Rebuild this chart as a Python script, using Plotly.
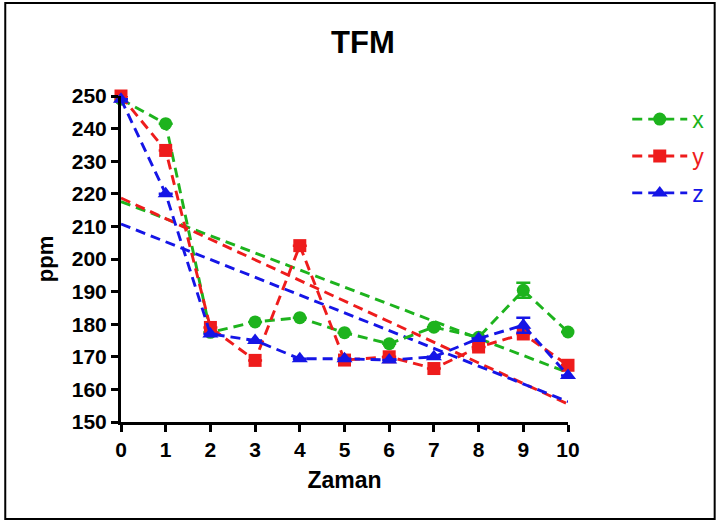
import numpy as np
import plotly.graph_objects as go

# Time points
zaman = list(range(11))

# Mean ppm values per series
x_vals = [249.0, 241.5, 177.5, 180.7, 182.0, 177.4, 174.0, 179.1, 176.0, 190.4, 177.6]
y_vals = [250.0, 233.3, 179.0, 168.9, 204.1, 169.0, 170.0, 166.4, 173.0, 177.0, 167.4]
z_vals = [249.0, 220.0, 177.0, 175.0, 169.4, 169.4, 169.0, 170.0, 175.6, 179.7, 164.3]

# Standard errors
x_err = [0, 0, 0, 0, 0, 0, 0, 0, 0, 2.3, 0]
y_err = [0, 0, 0, 0, 0, 0, 0, 0, 0, 0, 0]
z_err = [0, 0, 0, 0, 0, 0, 0, 0, 0, 2.3, 0]

series = [
    ("x", x_vals, x_err, "#1db31d", "circle", 13),
    ("y", y_vals, y_err, "#ee1c1c", "square", 13),
    ("z", z_vals, z_err, "#1515e6", "triangle-up", 14),
]

DASH = "10px,6px"
LW = 2.9
fig = go.Figure()

# Linear regression trend lines
for name, vals, err, color, sym, size in series:
    slope, icpt = np.polyfit(zaman, vals, 1)
    xs = [zaman[0], zaman[-1]]
    fig.add_trace(go.Scatter(
        x=xs, y=[icpt + slope * v for v in xs], mode="lines",
        line=dict(color=color, width=LW, dash=DASH),
        showlegend=False, hoverinfo="skip", cliponaxis=False))

# Data series
for name, vals, err, color, sym, size in series:
    fig.add_trace(go.Scatter(
        x=zaman, y=vals, mode="lines+markers",
        name=f"<span style='color:{color}'>{name}</span>",
        legendgroup=name,
        line=dict(color=color, width=LW, dash=DASH),
        marker=dict(symbol=sym, size=size, color=color),
        error_y=dict(type="data", array=err, visible=True, color=color,
                     thickness=2.5, width=7),
        cliponaxis=False))

W, H = 720, 523
L, R, T, B = 121, 151, 96, 101

fig.update_layout(
    width=W, height=H,
    margin=dict(l=L, r=R, t=T, b=B),
    paper_bgcolor="white", plot_bgcolor="white",
    font=dict(family="Liberation Sans, Arial, sans-serif", color="black"),
    title=dict(text="<b>TFM</b>", x=0.504, xref="container", xanchor="center",
               y=0.92, yref="container", yanchor="middle",
               font=dict(size=31, color="black")),
    legend=dict(x=1.13, y=0.995, xanchor="left", yanchor="top",
                font=dict(size=23), bgcolor="rgba(0,0,0,0)",
                itemwidth=55, tracegroupgap=4),
    showlegend=True,
)

fig.update_xaxes(
    range=[0, 10], tickvals=zaman, ticktext=[str(v) for v in zaman],
    showgrid=False, zeroline=False, showline=True, linecolor="black", linewidth=3,
    ticks="outside", ticklen=7, tickwidth=2.5, tickcolor="black",
    tickfont=dict(size=21, family="Liberation Sans", weight="bold"),
    title=dict(text="<b>Zaman</b>", font=dict(size=23), standoff=12),
)
fig.update_yaxes(
    range=[150, 250], tickvals=list(range(150, 251, 10)),
    showgrid=False, zeroline=False, showline=True, linecolor="black", linewidth=3,
    ticks="outside", ticklen=7, tickwidth=2.5, tickcolor="black",
    tickfont=dict(size=21, family="Liberation Sans", weight="bold"),
    title=dict(text="<b>ppm</b>", font=dict(size=22), standoff=13),
)

# Outer frame around the whole figure
pw, ph = W - L - R, H - T - B
def px_x(p):
    return (p - L) / pw
def px_y(p):
    return (H - B - p) / ph
fig.add_shape(type="rect", xref="paper", yref="paper",
              x0=px_x(5), x1=px_x(716), y0=px_y(519), y1=px_y(3),
              line=dict(color="black", width=2), layer="below")

fig.write_html("out.html")
